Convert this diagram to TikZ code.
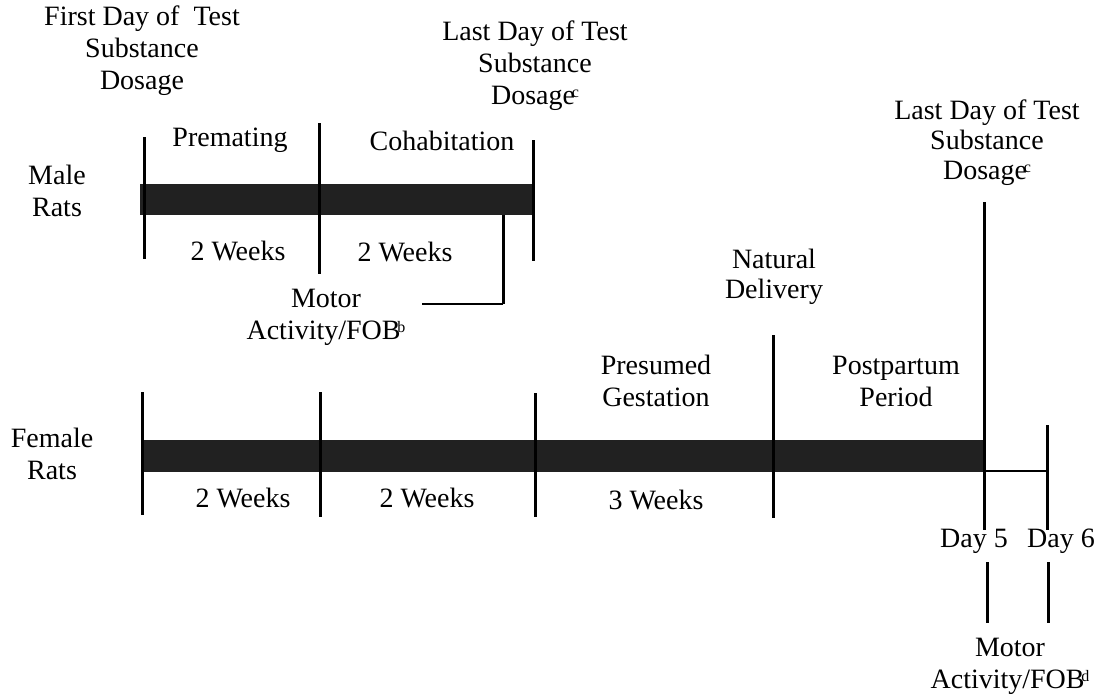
\documentclass[tikz,border=0pt]{standalone}
\usepackage{fontspec}
\setmainfont{Liberation Serif}
\newcommand\supx[1]{\kern-1.6pt\raisebox{0.55ex}{\fontsize{8}{8}\selectfont #1}}
\begin{document}
\begin{tikzpicture}[x=0.5pt,y=-0.5pt,
  lbl/.style={inner sep=0pt, align=center, font=\fontsize{14}{16}\selectfont},
  lbltight/.style={inner sep=0pt, align=center, font=\fontsize{14}{15}\selectfont},
  tick/.style={line width=1.5pt},
  hline/.style={line width=1pt},
  thinline/.style={line width=0.8pt},
  barfill/.style={fill=black!87}]
\useasboundingbox (0,0) rectangle (1098,698);

% ---------- bars ----------
\fill[barfill] (140,184) rectangle (533,215);
\fill[barfill] (142,440) rectangle (984,472);

% ---------- male ticks ----------
\coordinate (m1t) at (144,137); \coordinate (m1b) at (144,259);
\coordinate (m2t) at (319,123); \coordinate (m2b) at (319,274);
\coordinate (m3t) at (533,140); \coordinate (m3b) at (533,261);
\coordinate (mmt) at (503,215); \coordinate (mmb) at (503,304);
\coordinate (mml) at (422,304);
\draw[tick] (m1t) -- (m1b);
\draw[tick] (m2t) -- (m2b);
\draw[tick] (m3t) -- (m3b);
\draw[tick] (mmt) -- (mmb);
\draw[hline] (mmb) -- (mml);

% ---------- female ticks ----------
\coordinate (f1t) at (142,392); \coordinate (f1b) at (142,515);
\coordinate (f2t) at (320,392); \coordinate (f2b) at (320,517);
\coordinate (f3t) at (535,393); \coordinate (f3b) at (535,517);
\coordinate (f4t) at (773,335); \coordinate (f4b) at (773,518);
\coordinate (f5t) at (984,202); \coordinate (f5b) at (984,530);
\coordinate (f6t) at (1047,425); \coordinate (f6b) at (1047,530);
\coordinate (f5m) at (984,471); \coordinate (f6m) at (1047,471);
\draw[tick] (f1t) -- (f1b);
\draw[tick] (f2t) -- (f2b);
\draw[tick] (f3t) -- (f3b);
\draw[tick] (f4t) -- (f4b);
\draw[tick] (f5t) -- (f5b);
\draw[tick] (f6t) -- (f6b);
\draw[thinline] (f5m) -- (f6m);

% lower ticks under Day 5 / Day 6
\coordinate (l5t) at (987,562); \coordinate (l5b) at (987,623);
\coordinate (l6t) at (1048,562); \coordinate (l6b) at (1048,623);
\draw[tick] (l5t) -- (l5b);
\draw[tick] (l6t) -- (l6b);

% ---------- labels ----------
\node[lbl] (first) at (142,51) {First Day of\ \ Test\\Substance\\Dosage};
\node[lbl] (mlast) at (535,66) {Last Day of Test\\Substance\\Dosage\supx{c}};
\node[lbl] (prem) at (230,140) {Premating};
\node[lbl] (cohab) at (442,141) {Cohabitation};
\node[lbl] (male) at (57,191) {Male\\Rats};
\node[lbl] (mw1) at (238,251) {2 Weeks};
\node[lbl] (mw2) at (405,252) {2 Weeks};
\node[lbl] (mmotor) at (326,317) {Motor\\Activity/FOB\supx{b}};

\node[lbltight] (nat) at (774,277) {Natural\\Delivery};
\node[lbltight] (flast) at (987,143) {Last Day of Test\\Substance\\Dosage\supx{c}};
\node[lbl] (pres) at (656,381) {Presumed\\Gestation};
\node[lbl] (post) at (896,381) {Postpartum\\Period};
\node[lbl] (female) at (52,454) {Female\\Rats};
\node[lbl] (fw1) at (243,498) {2 Weeks};
\node[lbl] (fw2) at (427,498) {2 Weeks};
\node[lbl] (fw3) at (656,500) {3 Weeks};
\node[lbl] (d5) at (974,541) {Day 5};
\node[lbl] (d6) at (1061,541) {Day 6};
\node[lbl] (fmotor) at (1010,666) {Motor\\Activity/FOB\supx{d}};
\end{tikzpicture}
\end{document}
